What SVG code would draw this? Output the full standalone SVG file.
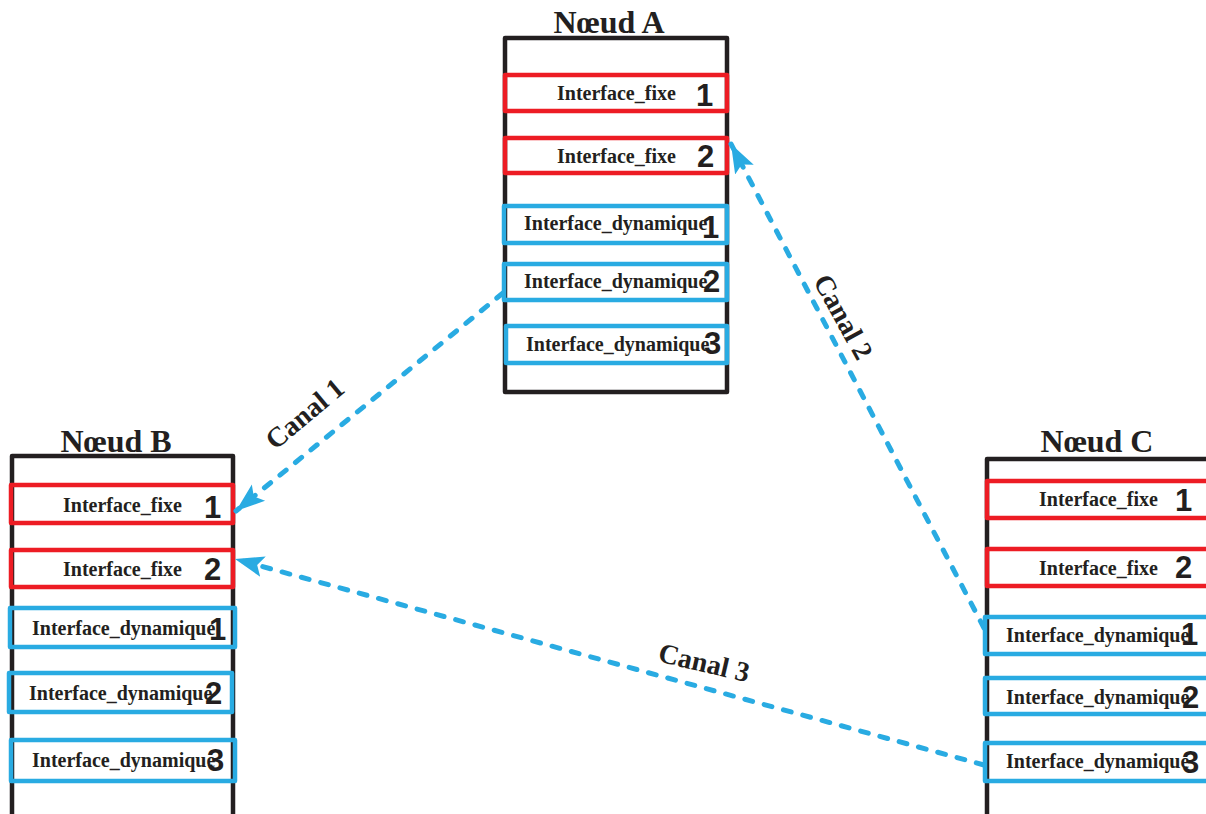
<svg xmlns="http://www.w3.org/2000/svg" width="1206" height="814" viewBox="0 0 1206 814">
<style>
.outer{fill:none;stroke:#231f20;stroke-width:4.5;stroke-linejoin:round}
.fixe{fill:none;stroke:#ed1c24;stroke-width:4.5;stroke-linejoin:round}
.dyn{fill:none;stroke:#29abe2;stroke-width:4.5;stroke-linejoin:round}
.lbl{font-family:"Liberation Serif","Times New Roman",serif;font-weight:bold;font-size:20px;fill:#231f20}
.num{font-family:"Liberation Sans",Arial,sans-serif;font-weight:bold;font-size:31px;fill:#231f20}
.title{font-family:"Liberation Serif","Times New Roman",serif;font-weight:bold;font-size:32px;fill:#231f20;text-anchor:middle}
.canal{font-family:"Liberation Serif","Times New Roman",serif;font-weight:bold;font-size:28px;fill:#231f20;text-anchor:middle}
.conn{fill:none;stroke:#29abe2;stroke-width:5;stroke-linecap:round;stroke-dasharray:8 12}
</style>
<defs>
<marker id="arr" markerUnits="userSpaceOnUse" markerWidth="32" markerHeight="24" refX="29" refY="11" orient="auto" viewBox="0 0 32 22">
<path d="M0,0.5 L29,11 L0,21.5 L6,11 Z" fill="#29abe2"/>
</marker>
</defs>
<rect width="1206" height="814" fill="#ffffff"/>

<g id="node-A">
<text class="title" x="609" y="33">Nœud A</text>
<rect class="outer" x="505" y="38" width="222" height="354"/>
<rect class="fixe" x="505" y="75" width="222" height="36"/>
<text class="lbl" x="557" y="100">Interface_fixe</text>
<text class="num" x="696" y="106">1</text>
<rect class="fixe" x="505" y="138" width="222" height="35"/>
<text class="lbl" x="557" y="163">Interface_fixe</text>
<text class="num" x="697" y="167">2</text>
<rect class="dyn" x="504" y="206" width="223" height="37"/>
<text class="lbl" x="524" y="230">Interface_dynamique</text>
<text class="num" x="702" y="238">1</text>
<rect class="dyn" x="504" y="264" width="223" height="36"/>
<text class="lbl" x="524" y="288">Interface_dynamique</text>
<text class="num" x="703" y="292">2</text>
<rect class="dyn" x="506" y="326" width="221" height="37"/>
<text class="lbl" x="526" y="351">Interface_dynamique</text>
<text class="num" x="704" y="354">3</text>
</g>

<g id="node-B">
<text class="title" x="116" y="452">Nœud B</text>
<rect class="outer" x="12" y="456" width="221" height="400"/>
<rect class="fixe" x="11" y="485" width="222" height="38"/>
<text class="lbl" x="63" y="512">Interface_fixe</text>
<text class="num" x="204" y="518">1</text>
<rect class="fixe" x="11" y="550" width="222" height="37"/>
<text class="lbl" x="63" y="576">Interface_fixe</text>
<text class="num" x="204" y="580">2</text>
<rect class="dyn" x="10" y="608" width="225" height="39"/>
<text class="lbl" x="32" y="635">Interface_dynamique</text>
<text class="num" x="209" y="640">1</text>
<rect class="dyn" x="9" y="673" width="223" height="39"/>
<text class="lbl" x="29" y="700">Interface_dynamique</text>
<text class="num" x="205" y="704">2</text>
<rect class="dyn" x="11" y="740" width="224" height="41"/>
<text class="lbl" x="32" y="767">Interface_dynamique</text>
<text class="num" x="207" y="771">3</text>
</g>

<g id="node-C">
<text class="title" x="1097" y="452">Nœud C</text>
<rect class="outer" x="987" y="459" width="240" height="400"/>
<rect class="fixe" x="987" y="481" width="240" height="37"/>
<text class="lbl" x="1039" y="506">Interface_fixe</text>
<text class="num" x="1175" y="511">1</text>
<rect class="fixe" x="987" y="549" width="240" height="37"/>
<text class="lbl" x="1039" y="575">Interface_fixe</text>
<text class="num" x="1175" y="578">2</text>
<rect class="dyn" x="985" y="617" width="240" height="37"/>
<text class="lbl" x="1006" y="642">Interface_dynamique</text>
<text class="num" x="1181" y="645">1</text>
<rect class="dyn" x="985" y="678" width="240" height="36"/>
<text class="lbl" x="1006" y="704">Interface_dynamique</text>
<text class="num" x="1182" y="708">2</text>
<rect class="dyn" x="985" y="743" width="240" height="38"/>
<text class="lbl" x="1006" y="768">Interface_dynamique</text>
<text class="num" x="1182" y="773">3</text>
</g>

<g id="connectors">
<line class="conn" x1="503" y1="293" x2="236" y2="511" marker-end="url(#arr)"/>
<line class="conn" x1="984" y1="628" x2="731" y2="144" marker-end="url(#arr)"/>
<line class="conn" x1="984" y1="765" x2="235" y2="559" marker-end="url(#arr)"/>
<text class="canal" transform="translate(305,414) rotate(-40)" x="0" y="9">Canal 1</text>
<text class="canal" transform="translate(843,317) rotate(61)" x="0" y="9">Canal 2</text>
<text class="canal" transform="translate(704,663) rotate(13)" x="0" y="9">Canal 3</text>
</g>
</svg>
